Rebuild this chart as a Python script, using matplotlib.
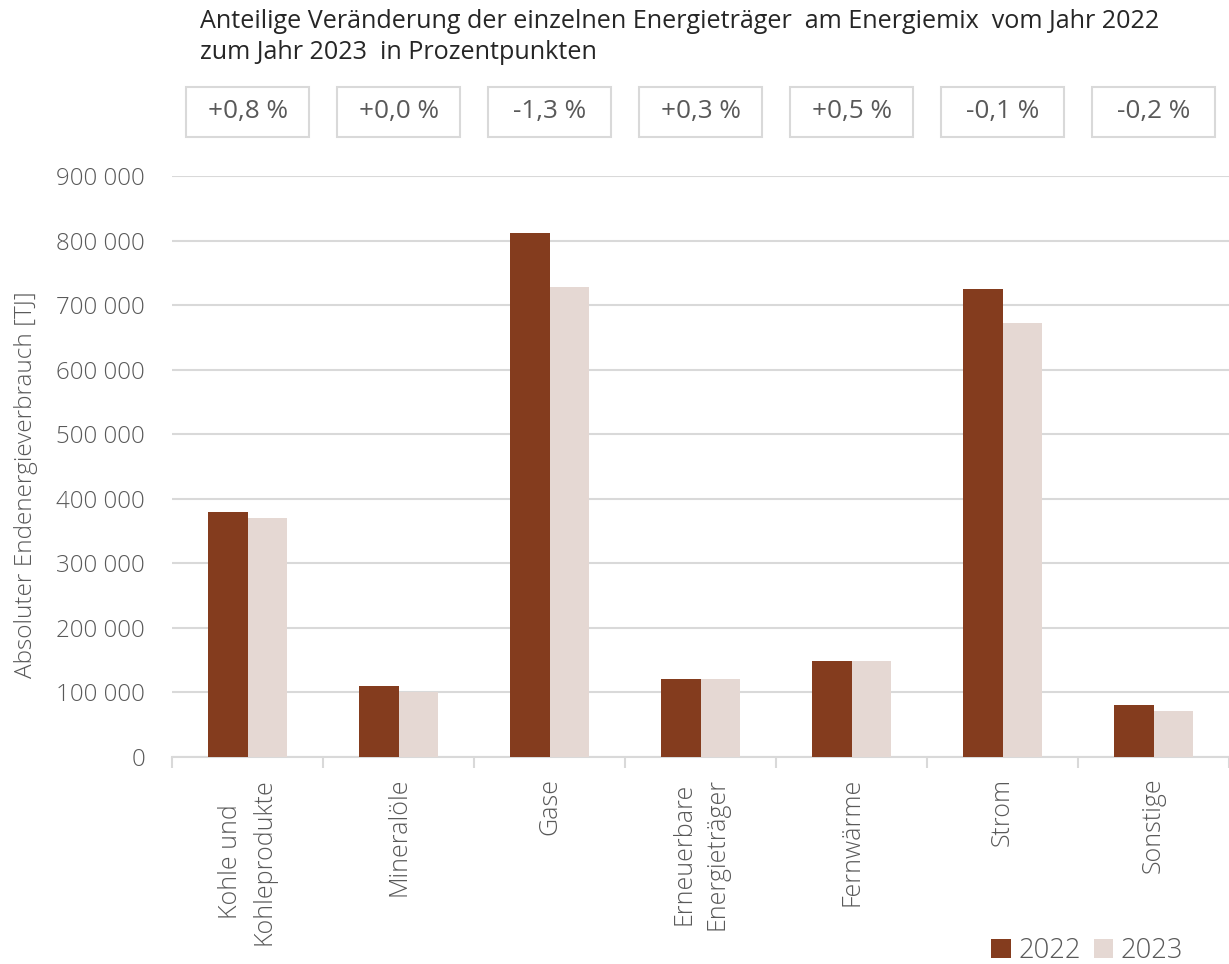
import matplotlib.pyplot as plt
import matplotlib.transforms as mtransforms
from matplotlib.patches import Rectangle
import numpy as np

plt.rcParams['font.family'] = ['Open Sans', 'DejaVu Sans']

kategorien = ['Kohle und\nKohleprodukte', 'Mineralöle', 'Gase', 'Erneuerbare\nEnergieträger',
              'Fernwärme', 'Strom', 'Sonstige']
werte_2022 = [380000, 110000, 812000, 121000, 149000, 725000, 80000]
werte_2023 = [370000, 101000, 728000, 121000, 149000, 673000, 71000]
aenderung = ['+0,8 %', '+0,0 %', '-1,3 %', '+0,3 %', '+0,5 %', '-0,1 %', '-0,2 %']

farbe_2022 = '#843C1E'
farbe_2023 = '#E5D8D3'
grau_text = '#595959'

fig = plt.figure(figsize=(12.29, 9.64), dpi=100)
ax = fig.add_axes([0.140, 0.2147, 0.860, 0.6027])

x = np.arange(len(kategorien))
breite = 0.26
ax.bar(x - breite / 2, werte_2022, breite, color=farbe_2022, label='2022', zorder=3)
ax.bar(x + breite / 2, werte_2023, breite, color=farbe_2023, label='2023', zorder=3)

ax.set_xlim(-0.5, len(kategorien) - 0.5)
ax.set_ylim(0, 900000)
ax.set_yticks(np.arange(0, 900001, 100000))
ax.set_yticklabels([f'{v:,}'.replace(',', ' ') for v in range(0, 900001, 100000)])
ax.yaxis.grid(True, color='#d9d9d9', linewidth=1.5, zorder=0)
ax.tick_params(axis='y', length=0, pad=19.5, labelsize=17.4, labelcolor=grau_text)

# Kategorienamen mittig, Trennstriche zwischen den Kategorien
ax.set_xticks(x)
ax.set_xticklabels(kategorien, rotation=90, ha='center', va='top', multialignment='center',
                   fontsize=18, color=grau_text, linespacing=1.45)
ax.tick_params(axis='x', length=0, pad=15)
ax.set_xticks(np.arange(-0.5, len(kategorien), 1), minor=True)
ax.tick_params(axis='x', which='minor', length=8, width=1.5, color='#d9d9d9')

for s in ['top', 'right', 'left']:
    ax.spines[s].set_visible(False)
ax.spines['bottom'].set_color('#d9d9d9')
ax.spines['bottom'].set_linewidth(1.5)

for lbl in ax.get_xticklabels() + ax.get_yticklabels():
    lbl.set_fontweight('light')

ax.set_ylabel('Absoluter Endenergieverbrauch [TJ]', fontsize=17.6, color=grau_text,
              fontweight='light')
ax.yaxis.set_label_coords(-0.127, 0.468)

fig.text(200 / 1229, 1 - 37 / 964,
         'Anteilige Veränderung der einzelnen Energieträger  am Energiemix  vom Jahr 2022\n'
         'zum Jahr 2023  in Prozentpunkten',
         fontsize=18.1, color='#262626', ha='left', va='center', linespacing=1.35)

# Kästen mit der Veränderung in Prozentpunkten über jeder Kategorie
trans = mtransforms.blended_transform_factory(ax.transData, fig.transFigure)
box_b = 1 - 137 / 964
box_h = 50 / 964
box_w = 0.82
for xi, txt in zip(x, aenderung):
    fig.patches.append(Rectangle((xi - box_w / 2, box_b), box_w, box_h, transform=trans,
                                 fill=False, edgecolor='#d9d9d9', linewidth=1.5))
    fig.text(xi, box_b + box_h / 2, txt, transform=trans, ha='center', va='center',
             fontsize=18.8, color=grau_text)

leg = fig.legend(loc='lower right', bbox_to_anchor=(0.983, -0.027), ncol=2, frameon=False,
                 fontsize=19.7, handlelength=0.7, handleheight=0.7, handletextpad=0.3,
                 columnspacing=0.45, labelcolor=grau_text)
for t in leg.get_texts():
    t.set_fontweight('light')

fig.savefig('out.png', dpi=100)
